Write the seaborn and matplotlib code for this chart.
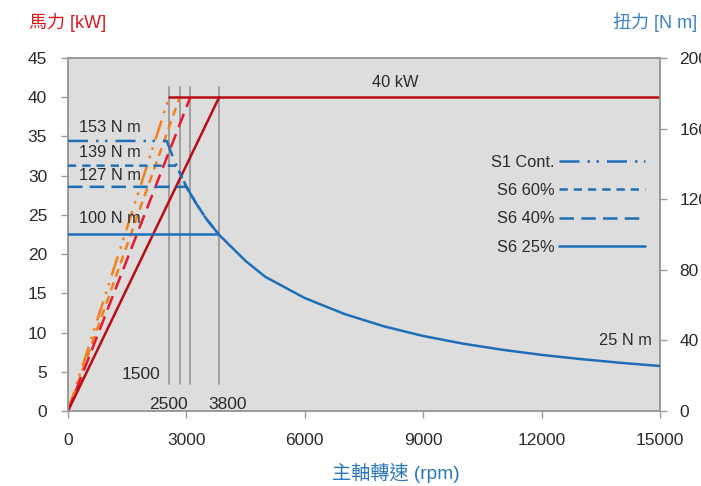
import matplotlib
matplotlib.use("Agg")
import matplotlib.pyplot as plt
import seaborn as sns
import pandas as pd

# ---- data ----
# power curves (kW) : rise from 0 to 40 kW at base speed
power_base_rpm = [2560, 2830, 3100, 3830]
power_top_kw = [40, 40, 40, 40]
flat_power_rpm = [2560, 15000]
flat_power_kw = [40, 40]

# torque curves (N m)
torque_levels = [153, 139, 127, 100]
torque_knee_rpm = [2500, 2750, 3000, 3820]
# descending (constant-power) torque curve
curve_rpm = [2500, 2640, 2750, 3000, 3250, 3500, 3820, 4500, 5000, 6000, 7000, 8000,
             9000, 10000, 11000, 12000, 13000, 14000, 15000]
curve_nm = [153, 145, 139, 127, 117.5, 109, 100, 85, 76, 64, 55, 48,
            42.5, 38.2, 34.7, 31.8, 29.4, 27.3, 25.5]

series_names = ["S1 Cont.", "S6 60%", "S6 40%", "S6 25%"]
vline_rpm = [2560, 2830, 3100, 3830]

x_ticks = [0, 3000, 6000, 9000, 12000, 15000]
kw_ticks = [0, 5, 10, 15, 20, 25, 30, 35, 40, 45]
nm_ticks = [0, 40, 80, 120, 160, 200]

torque_labels = ["153 N m", "139 N m", "127 N m", "100 N m"]

# ---- styles ----
BLUE = "#1f6fb8"
power_colors = ["#f2801e", "#f2801e", "#e8182c", "#b90e16"]
styles = [
    (0, (8, 3.2, 1, 2.6, 1, 3.2)),
    (0, (3.3, 2.4)),
    (0, (5.8, 2.9)),
    "-",
]
LABEL_FONT = ["Liberation Sans", "Noto Sans CJK TC", "DejaVu Sans"]

sns.set_theme(style="white")
plt.rcParams["font.family"] = LABEL_FONT

fig = plt.figure(figsize=(7.01, 4.86), dpi=100)
ax = fig.add_axes([68 / 701, 1 - 411 / 486, 592 / 701, 353 / 486])
ax2 = ax.twinx()

ax.set_facecolor("#dcdddc")
ax2.patch.set_visible(False)

# vertical guide lines
for v in vline_rpm:
    ax.plot([v, v], [3.4, 41.3], color="#9a9a9a", lw=1.3, zorder=1)

# power lines
for i in range(4):
    df = pd.DataFrame({"rpm": [0, power_base_rpm[i]], "kw": [0, power_top_kw[i]]})
    sns.lineplot(data=df, x="rpm", y="kw", ax=ax, color=power_colors[i],
                 linestyle=styles[i], lw=1.8, sort=False, estimator=None, zorder=3)
df = pd.DataFrame({"rpm": flat_power_rpm, "kw": flat_power_kw})
sns.lineplot(data=df, x="rpm", y="kw", ax=ax, color=power_colors[3], lw=1.8,
             sort=False, estimator=None, zorder=3)

# torque lines
for i in range(4):
    knee = torque_knee_rpm[i]
    end = 3820 if i < 3 else 15000
    xs = [0] + [r for r in curve_rpm if knee <= r <= end]
    ys = [torque_levels[i]] + [t for r, t in zip(curve_rpm, curve_nm) if knee <= r <= end]
    df = pd.DataFrame({"rpm": xs, "nm": ys})
    sns.lineplot(data=df, x="rpm", y="nm", ax=ax2, color=BLUE, linestyle=styles[i],
                 lw=1.8, sort=False, estimator=None, label=series_names[i], zorder=3)

# axes limits & ticks
ax.set_xlim(0, 15000)
ax.set_ylim(0, 45)
ax2.set_ylim(0, 200)
ax.set_xticks(x_ticks)
ax.set_yticks(kw_ticks)
ax2.set_yticks(nm_ticks)
ax.set_xlabel("")
ax.set_ylabel("")
ax2.set_ylabel("")

for a in (ax, ax2):
    for s in a.spines.values():
        s.set_color("#9a9a9a")
        s.set_linewidth(1.2)
ax.tick_params(axis="both", which="major", direction="out", length=5, width=1,
               color="#9a9a9a", labelsize=12.5, labelcolor="#2b2b2b",
               left=True, bottom=True)
ax.tick_params(axis="y", pad=10)
ax.tick_params(axis="x", pad=10.5)
ax2.tick_params(axis="y", direction="out", length=5, width=1, color="#9a9a9a",
                labelsize=12.5, labelcolor="#2b2b2b", pad=9, right=True)

# legend
leg = ax2.legend(loc="upper right", bbox_to_anchor=(0.985, 0.745), frameon=False,
                 markerfirst=False, handlelength=5.2, labelspacing=0.82,
                 handletextpad=0.3, fontsize=11.8, borderaxespad=0)
for t in leg.get_texts():
    t.set_color("#2b2b2b")

# annotations
txt = dict(fontsize=11.8, color="#2b2b2b")
ax.text(8300, 41.9, "40 kW", ha="center", va="center", **txt)
label_y = [36.2, 32.9, 30.0, 24.5]
for lab, y in zip(torque_labels, label_y):
    ax.text(280, y, lab, ha="left", va="center", **txt)
ax.text(14800, 9.0, "25 N m", ha="right", va="center", **txt)
ax.text(2340, 4.6, "1500", ha="right", va="center", fontsize=12.5, color="#2b2b2b")
ax.text(2540, 0.8, "2500", ha="center", va="center", fontsize=12.5, color="#2b2b2b")
ax.text(4040, 0.8, "3800", ha="center", va="center", fontsize=12.5, color="#2b2b2b")

# axis titles
fig.text(29 / 701, 1 - 22 / 486, "馬力 [kW]", color="#d7191f", fontsize=13,
         ha="left", va="center")
fig.text(613 / 701, 1 - 22 / 486, "扭力 [N m]", color="#3b82c4", fontsize=13,
         ha="left", va="center")
fig.text(396 / 701, 1 - 473 / 486, "主軸轉速 (rpm)", color="#2a76bd", fontsize=13.8,
         ha="center", va="center")

fig.savefig("out.png", dpi=100)
